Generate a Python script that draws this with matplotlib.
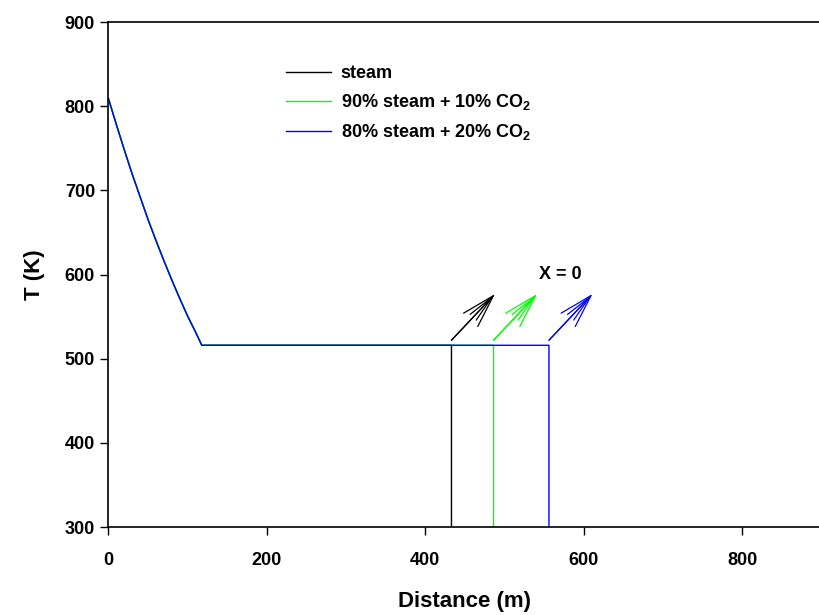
import matplotlib.pyplot as plt

curve_x = [0, 10, 20, 30, 40, 50, 60, 70, 80, 90, 100, 110, 118]
curve_y = [810, 779, 749, 720, 693, 666, 641, 617, 594, 572, 551, 532, 516]
flat_y = 516
bottom_y = 300
ends = [433, 486, 556]
names = ['steam', '90% steam + 10% CO$_2$', '80% steam + 20% CO$_2$']
colors = ['black', '#00ff00', '#0000ff']
arrow_dx, arrow_dy = 55, 55

plt.rcParams['font.family'] = ['Liberation Sans', 'DejaVu Sans']
plt.rcParams['mathtext.fontset'] = 'custom'
plt.rcParams['mathtext.rm'] = 'Liberation Sans:bold'
plt.rcParams['mathtext.default'] = 'rm'

fig = plt.figure(figsize=(8.2, 6.15), dpi=100)
ax = fig.add_axes([0.132, 0.143, 0.87, 0.821])

for i in range(3):
    xs = curve_x + [ends[i], ends[i]]
    ys = curve_y + [flat_y, bottom_y]
    ax.plot(xs, ys, color=colors[i], lw=1, label=names[i])

for i in range(3):
    start = (ends[i], flat_y + 6)
    tip = (ends[i] + arrow_dx, flat_y + 6 + arrow_dy)
    ax.annotate('', xy=tip, xytext=start,
                arrowprops=dict(arrowstyle='->,head_length=2.4,head_width=0.7',
                                color=colors[i], lw=0.9, shrinkA=0, shrinkB=0))
    ax.annotate('', xy=tip, xytext=start,
                arrowprops=dict(arrowstyle='->,head_length=2.0,head_width=0.3',
                                color=colors[i], lw=0.9, shrinkA=0, shrinkB=0))

ax.text(570, 600, 'X = 0', fontsize=13, fontweight='bold', ha='center', va='center')

ax.set_xlim(0, 900)
ax.set_ylim(300, 900)
ax.set_xticks([0, 200, 400, 600, 800])
ax.set_yticks([300, 400, 500, 600, 700, 800, 900])
ax.tick_params(direction='out', length=6, width=1, labelsize=13)
for lab in ax.get_xticklabels() + ax.get_yticklabels():
    lab.set_fontweight('bold')
ax.tick_params(axis='x', pad=12)
ax.set_xlabel('Distance (m)', fontsize=16, fontweight='bold', labelpad=16)
ax.set_ylabel('T (K)', fontsize=16, fontweight='bold', labelpad=14)
for s in ax.spines.values():
    s.set_linewidth(1.2)
ax.spines['right'].set_visible(False)

ax.legend(loc='upper left', bbox_to_anchor=(0.226, 0.947),
          frameon=False, prop={'weight': 'bold', 'size': 13},
          handlelength=2.5, handletextpad=0.55, labelspacing=0.55)

fig.savefig('out.png', dpi=100)
